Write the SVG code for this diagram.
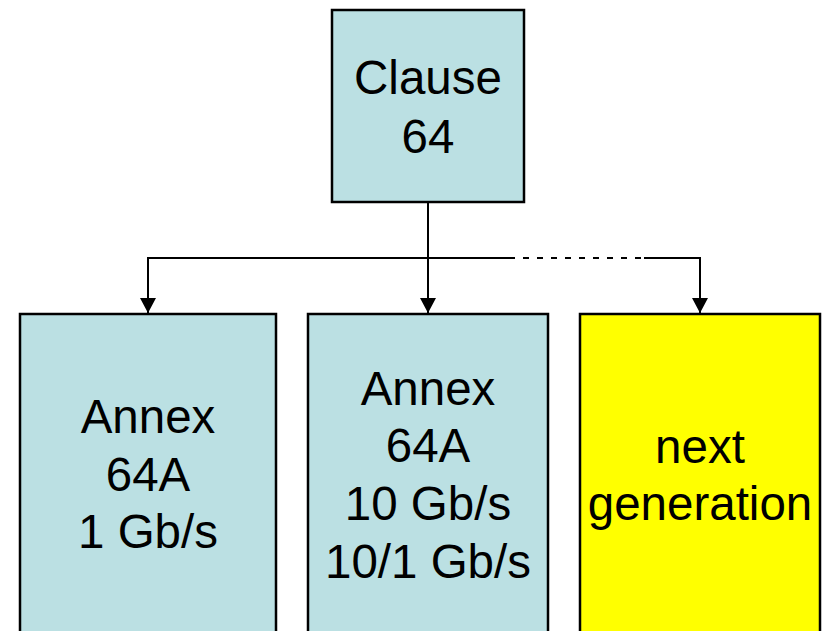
<svg xmlns="http://www.w3.org/2000/svg" width="823" height="631" viewBox="0 0 823 631">
<style>
.box{stroke:#000;stroke-width:2.5}
.blue{fill:#BBE0E3}
.yel{fill:#FFFF00}
.t{font-family:"Liberation Sans",Arial,sans-serif;font-size:47.5px;fill:#000;text-anchor:middle}
.c{fill:none;stroke:#000;stroke-width:2}
</style>
<defs>
<marker id="arr" markerUnits="userSpaceOnUse" markerWidth="16" markerHeight="16" refX="15" refY="8" orient="auto">
<path d="M0,0 L15,8 L0,16 Z" fill="#000"/>
</marker>
</defs>
<rect width="823" height="631" fill="#fff"/>
<g id="connectors">
<path class="c" d="M428,202 V258"/>
<path class="c" d="M515,258 H148 V313" marker-end="url(#arr)"/>
<path class="c" d="M428,258 V313" marker-end="url(#arr)"/>
<path class="c" d="M515,258 H644" stroke-dasharray="6 8" stroke-dashoffset="-8"/>
<path class="c" d="M644,258 H700 V313" marker-end="url(#arr)"/>
</g>
<g id="clause64">
<rect class="box blue" x="332" y="10" width="192" height="192"/>
<text class="t" x="428" y="94">Clause</text>
<text class="t" x="428" y="153">64</text>
</g>
<g id="annex64a-1g">
<rect class="box blue" x="20" y="314" width="256" height="330"/>
<text class="t" x="148" y="433">Annex</text>
<text class="t" x="148" y="491">64A</text>
<text class="t" x="148" y="548">1 Gb/s</text>
</g>
<g id="annex64a-10g">
<rect class="box blue" x="308" y="314" width="240" height="330"/>
<text class="t" x="428" y="405">Annex</text>
<text class="t" x="428" y="462">64A</text>
<text class="t" x="428" y="520">10 Gb/s</text>
<text class="t" x="428" y="578">10/1 Gb/s</text>
</g>
<g id="next-generation">
<rect class="box yel" x="580" y="314" width="240" height="330"/>
<text class="t" x="700" y="463">next</text>
<text class="t" x="700" y="520">generation</text>
</g>
</svg>
